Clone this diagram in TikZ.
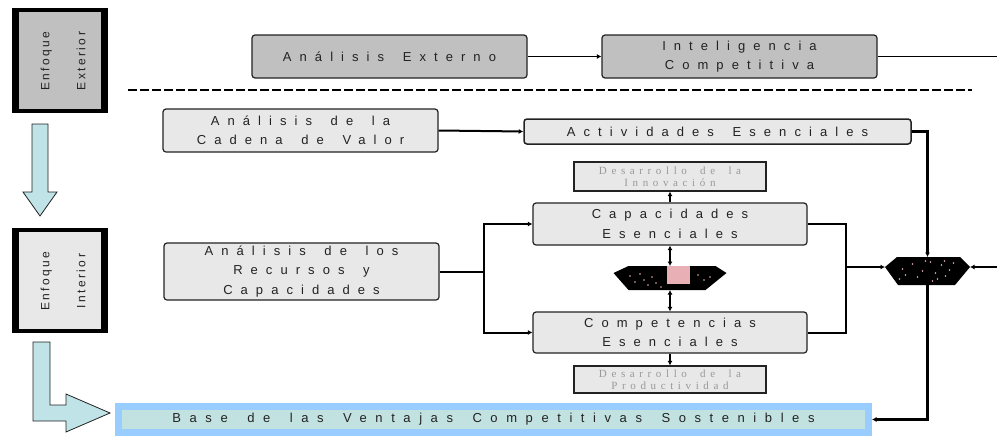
\documentclass[tikz,border=0pt]{standalone}
\usepackage{fontspec}
\setmainfont{Liberation Sans}
\newfontfamily\lsf[LetterSpace=62,WordSpace=1.6]{Liberation Sans}
\newfontfamily\lsfb[LetterSpace=66,WordSpace=1.6]{Liberation Sans}
\newfontfamily\lserif[LetterSpace=42,WordSpace=1.8]{Liberation Serif}
\newfontfamily\enf[LetterSpace=20]{Liberation Sans}
\usetikzlibrary{arrows.meta,calc}
\definecolor{boxgray}{HTML}{C0C0C0}
\definecolor{boxlight}{HTML}{E8E8E8}
\definecolor{edge}{HTML}{222222}
\definecolor{txt}{HTML}{222222}
\definecolor{devtxt}{HTML}{999999}
\definecolor{arrowblue}{HTML}{BFE3E6}
\definecolor{baseblue}{HTML}{99CCFF}
\definecolor{basefill}{HTML}{C2E2E2}
\definecolor{speck}{HTML}{E8B0B4}
\begin{document}
\begin{tikzpicture}[x=1pt,y=-1pt,
  proc/.style={draw=edge, line width=1.2pt, rounded corners=3pt, inner sep=0pt, align=center, text=txt, font=\lsf\fontsize{13}{19.5}\selectfont},
  darkproc/.style={proc, fill=boxgray},
  lightproc/.style={proc, fill=boxlight},
  devbox/.style={draw=edge, line width=1.2pt, fill=boxlight, inner sep=0pt, align=center, text=devtxt, font=\lserif\fontsize{11}{12}\selectfont},
  enfframe/.style={fill=black, inner sep=0pt, outer sep=0pt, minimum width=96pt, minimum height=105pt},
  enfinner/.style={inner sep=0pt, outer sep=0pt, minimum width=82pt, minimum height=97pt},
  enftext/.style={rotate=90, align=center, text=txt, font=\enf\fontsize{12}{36}\selectfont},
  conn/.style={draw=black, line width=2pt},
  arr/.style={-{Latex[length=4.5pt,width=5pt]}},
  dbl/.style={{Latex[length=4.5pt,width=5pt]}-{Latex[length=4.5pt,width=5pt]}},
  hexnode/.style={inner sep=0pt, outer sep=0pt},
  blockarrow/.style={fill=arrowblue, draw=edge, line width=0.8pt},
]
\useasboundingbox (0,0) rectangle (997,437);

% Enfoque boxes
\node[enfframe] (enfext) at (60,60) {};
\node[enfinner, fill=boxgray] (enfextin) at (enfext.center) {};
\node[enftext] (enfextt) at (63,61) {Enfoque\\Exterior};

\node[enfframe] (enfint) at (60,280.5) {};
\node[enfinner, fill=boxlight] (enfintin) at (enfint.center) {};
\node[enftext] (enfintt) at (63,281) {Enfoque\\Interior};

% block arrows
\draw[blockarrow] (32,124) -- (48,124) -- (48,192) -- (57,192) -- (40,216) -- (23,192) -- (32,192) -- cycle;
\draw[blockarrow] (33,342) -- (50,342) -- (50,405) -- (66,405) -- (66,394) -- (110,413) -- (66,432) -- (66,421) -- (33,421) -- cycle;

% top row
\node[darkproc, minimum width=275pt, minimum height=43pt] (ext) at (389.5,56.5) {Análisis Externo};
\node[darkproc, minimum width=275pt, minimum height=43pt] (intel) at (739.5,56.5) {Inteligencia\\Competitiva};
\coordinate (topR) at (997,56.5);
\draw[line width=1pt, arr] (ext.east) -- (intel.west);
\draw[line width=1pt] (intel.east) -- (topR);

\coordinate (dashL) at (128,90);
\coordinate (dashR) at (972,90);
\draw[line width=1.3pt, dash pattern=on 9pt off 3pt] (dashL) -- (dashR);

% interior
\node[lightproc, minimum width=275pt, minimum height=43pt] (cadena) at (300.5,130.5) {Análisis de la\\Cadena de Valor};
\node[lightproc, line width=1.5pt, minimum width=387pt, minimum height=25pt] (activ) at (717.5,131.5) {Actividades Esenciales};
\node[devbox, minimum width=192pt, minimum height=29pt] (innov) at (670,176.5) {Desarrollo de la\\Innovación};
\node[lightproc, minimum width=275pt, minimum height=57pt] (recursos) at (301.5,271.5) {Análisis de los\\Recursos y\\Capacidades};
\node[lightproc, minimum width=274pt, minimum height=42pt] (capac) at (670,224) {Capacidades\\Esenciales};
\node[lightproc, minimum width=274pt, minimum height=41pt] (compet) at (670,332.5) {Competencias\\Esenciales};
\node[devbox, minimum width=192pt, minimum height=27pt] (prod) at (670,379.5) {Desarrollo de la\\Productividad};

\node[draw=baseblue, line width=7pt, fill=basefill, minimum width=750pt, minimum height=26pt, inner sep=0pt, text=txt, font=\lsfb\fontsize{13}{15}\selectfont] (base) at (493.5,419.5) {Base de las Ventajas Competitivas Sostenibles};

% middle hexagon
\node[hexnode, minimum width=113pt, minimum height=24pt] (d1) at (670,278) {};
\fill[black] ($(d1.west)+(0,-5)$) -- ($(d1.north west)+(15,0)$) -- ($(d1.north east)+(-11,0)$) -- ($(d1.east)+(0,-5)$) -- ($(d1.south east)+(-21,0)$) -- ($(d1.south west)+(15,0)$) -- cycle;
\fill[speck] ($(d1.north)+(-3,0)$) rectangle ($(d1.center)+(20,6)$);
\foreach \dx/\dy in {-40/-2,-35/4,-30/-4,-26/2,-22/7,-18/-1,-14/5,-9/9,28/-3,34/2,40/-1}
  \fill[speck] ($(d1.center)+(\dx,\dy)$) circle (0.8pt);

% right hexagon
\node[hexnode, minimum width=85pt, minimum height=20pt] (d2) at (927.5,267) {};
\fill[black] (d2.west) -- ($(d2.north west)+(12,0)$) -- ($(d2.north east)+(-10,0)$) -- (d2.east) -- ($(d2.south east)+(-15,8)$) -- ($(d2.south west)+(13,8)$) -- cycle;
\foreach \dx/\dy in {-25/2,-22/8,-15/-3,-10/10,-5/4,3/-5,8/6,14/-2,18/9,22/3,26/-4,-28/12,10/12,-2/-6,17/-6,5/14}
  \fill[speck] ($(d2.center)+(\dx,\dy)$) circle (0.9pt);

% connectors
\draw[conn, arr] (cadena.east) -- (activ.west);
\draw[conn, line width=2.6pt, arr] (activ.east) -| (d2.north);
\coordinate (brL) at (484,271.5);
\draw[conn] (recursos.east) -- (brL);
\draw[conn, arr] (brL) |- (capac.west);
\draw[conn, arr] (brL) |- (compet.west);
\coordinate (brR) at (846,267);
\draw[conn] (capac.east) -| (brR);
\draw[conn] (compet.east) -| (brR);
\draw[conn, arr] (brR) -- (d2.west);
\coordinate (rightIn) at (997,267);
\draw[conn, arr] (rightIn) -- (d2.east);
\draw[conn, line width=2.6pt, arr] (d2.south) |- (base.east);
\draw[conn, arr] (capac.north) -- (innov.south);
\draw[conn, dbl] (capac.south) -- (d1.north);
\draw[conn, dbl] (d1.south) -- (compet.north);
\draw[conn, arr] (compet.south) -- (prod.north);
\end{tikzpicture}
\end{document}
